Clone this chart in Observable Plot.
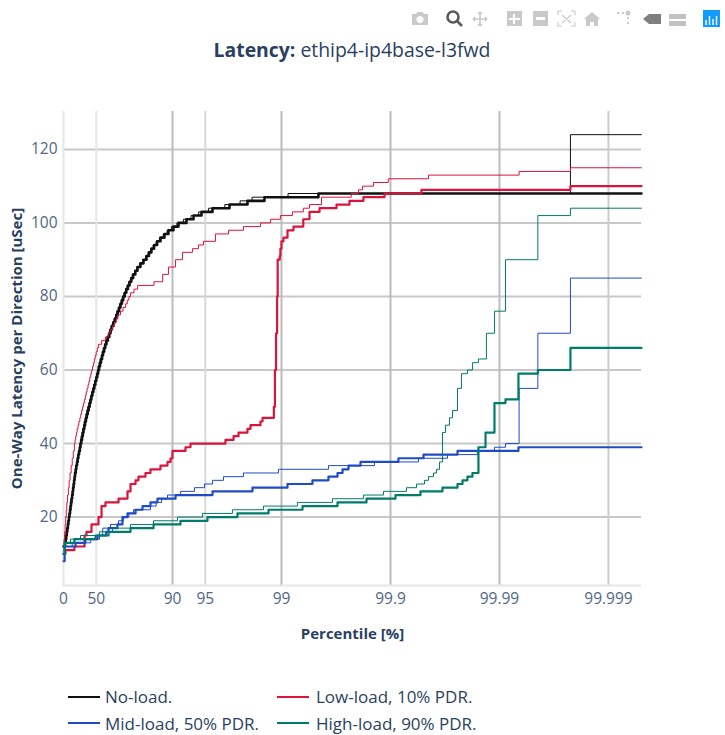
<!DOCTYPE html>
<html>
<head>
<meta charset="utf-8">
<script src="https://cdn.jsdelivr.net/npm/d3@7"></script>
<script src="https://cdn.jsdelivr.net/npm/@observablehq/plot@0.6"></script>
<style>
  html, body { margin: 0; padding: 0; background: #fff; }
  body { width: 725px; height: 735px; position: relative; overflow: hidden; font-family: "Open Sans", sans-serif; color: #2a3f5f; }
  #title { position: absolute; left: 0; width: 704px; top: 37px; text-align: center; font-size: 19.4px; line-height: 26px; white-space: nowrap; }
  #modebar { position: absolute; left: 400px; top: 0; }
  #chart { position: absolute; left: 0; top: 100px; }
  .lg { position: absolute; font-size: 17px; line-height: 22px; white-space: nowrap; color: #2a3f5f; }
  .sw { position: absolute; width: 32px; height: 2px; }
</style>
</head>
<body>
<div id="title"><b>Latency:</b> ethip4-ip4base-l3fwd</div>
<svg id="modebar" width="325" height="36" viewBox="0 0 325 36">
  <g fill="#c9c9c9" stroke="none">
    <path d="M12 14h4l1.5-2h5l1.5 2h4v11h-16z M20 16a3.6 3.6 0 1 0 .01 0z" fill-rule="evenodd"/>
    <path d="M107 11h15v15h-15z M113 14v4h-4v2h4v4h2v-4h5v-2h-5v-4z" fill-rule="evenodd"/>
    <path d="M133 11h15v15h-15z M136 17v3h9v-3z" fill-rule="evenodd"/>
    <path d="M184 19l8-7 8 7h-2v7h-4v-4h-4v4h-4v-7z"/>
    <circle cx="228" cy="13" r="2.5"/><rect x="217" y="12" width="2" height="2"/><rect x="222" y="12" width="2" height="2"/>
    <rect x="227" y="17" width="2" height="2"/><rect x="227" y="22" width="2" height="2"/>
    <path d="M269 14h17v5h-17z M269 21h17v5h-17z" fill="#c2c2c2"/>
  </g>
  <g fill="none" stroke="#c9c9c9" stroke-width="1.6">
    <path d="M80 12v14M73 19h14M80 12l-2 2M80 12l2 2M80 26l-2-2M80 26l2-2M73 19l2-2M73 19l2 2M87 19l-2-2M87 19l-2 2"/>
    <path d="M158 15v-4h4M171 11h4v4M175 22v4h-4M162 26h-4v-4M162 15l9 8M171 15l-9 8" stroke-width="1.1"/>
  </g>
  <path d="M243 19l6-5h12v10h-12z" fill="#7f7f7f"/>
  <g fill="none" stroke="#5a5a5a"><circle cx="53" cy="17" r="5.5" stroke-width="2.6"/><path d="M57 21l5 5" stroke-width="2.6"/></g>
  <rect x="303" y="10" width="17" height="17" fill="#119dff"/>
  <g stroke="#fff" stroke-width="1.4"><path d="M306 25v-5M309.500 25v-9M313 25v-6M316.500 25v-9"/></g>
</svg>
<div id="chart"></div>
<div class="sw" style="left:68px;top:696px;background:#111"></div>
<div class="lg" style="left:105px;top:686px">No-load.</div>
<div class="sw" style="left:277px;top:696px;background:#dc143c"></div>
<div class="lg" style="left:316px;top:686px">Low-load, 10% PDR.</div>
<div class="sw" style="left:68px;top:722px;background:#1f4bc9"></div>
<div class="lg" style="left:105px;top:713px">Mid-load, 50% PDR.</div>
<div class="sw" style="left:277px;top:722px;background:#007c6a"></div>
<div class="lg" style="left:316px;top:713px">High-load, 90% PDR.</div>
<script>
// x values are "nines": -log10(1 - percentile/100), so 1 = 90%, 2 = 99%, 3 = 99.9% ...
const tickNines = [0, 0.301, 1, 1.301, 2, 3, 4, 5];
const tickLabels = ["0", "50", "90", "95", "99", "99.9", "99.99", "99.999"];
const yTicks = [20, 40, 60, 80, 100, 120];
const xEnd = 5.303;

const noLoadThin = [[0,12],[.01,13],[.016,14],[.021,15],[.026,16],[.031,17],[.036,18],[.041,19],[.046,20],[.051,21],[.056,22],[.061,23],[.065,24],[.07,25],[.075,26],[.08,27],[.084,28],[.089,29],[.093,30],[.098,31],[.102,32],[.108,33],[.113,34],[.12,35],[.126,36],[.132,37],[.139,38],[.146,39],[.15,40],[.155,41],[.162,42],[.169,43],[.176,44],[.183,45],[.19,46],[.198,47],[.206,48],[.214,49],[.223,50],[.232,51],[.24,52],[.248,53],[.257,54],[.266,55],[.275,56],[.284,57],[.293,58],[.302,59],[.31,60],[.318,61],[.327,62],[.336,63],[.346,64],[.355,65],[.365,66],[.375,67],[.386,68],[.399,69],[.412,70],[.424,71],[.436,72],[.45,73],[.464,74],[.477,75],[.489,76],[.502,77],[.515,78],[.528,79],[.54,80],[.554,81],[.568,82],[.583,83],[.598,84],[.614,85],[.631,86],[.651,87],[.671,88],[.698,89],[.726,90],[.753,91],[.776,92],[.799,93],[.823,94],[.85,95],[.88,96],[.915,97],[.95,98],[.99,99],[1.04,100],[1.1,101],[1.17,102],[1.24,103],[1.33,104],[1.48,105],[1.62,106],[1.73,107],[2.06,108],[4.651,124],[xEnd,124]];
const noLoadThick = [[0,12],[.014,13],[.02,14],[.025,15],[.03,16],[.035,17],[.04,18],[.045,19],[.05,20],[.055,21],[.06,22],[.065,23],[.069,24],[.074,25],[.079,26],[.084,27],[.088,28],[.093,29],[.097,30],[.102,31],[.106,32],[.112,33],[.117,34],[.124,35],[.13,36],[.136,37],[.143,38],[.15,39],[.156,40],[.163,41],[.17,42],[.177,43],[.184,44],[.191,45],[.198,46],[.206,47],[.214,48],[.222,49],[.231,50],[.24,51],[.248,52],[.256,53],[.265,54],[.274,55],[.283,56],[.292,57],[.301,58],[.31,59],[.318,60],[.326,61],[.335,62],[.344,63],[.354,64],[.363,65],[.373,66],[.383,67],[.394,68],[.407,69],[.42,70],[.432,71],[.444,72],[.458,73],[.472,74],[.485,75],[.497,76],[.51,77],[.523,78],[.536,79],[.548,80],[.562,81],[.576,82],[.591,83],[.606,84],[.622,85],[.639,86],[.659,87],[.679,88],[.706,89],[.734,90],[.761,91],[.784,92],[.807,93],[.831,94],[.859,95],[.89,96],[.926,97],[.963,98],[1.009,99],[1.055,100],[1.128,101],[1.193,102],[1.266,103],[1.367,104],[1.523,105],[1.688,106],[1.844,107],[2.339,108],[xEnd,108]];
const lowLoadThin = [[0,12],[.005,14],[.01,16],[.015,18],[.02,20],[.025,22],[.03,24],[.037,26],[.045,28],[.052,30],[.06,32],[.07,34],[.08,36],[.09,38],[.1,40],[.106,41],[.112,42],[.118,43],[.125,44],[.133,45],[.141,46],[.15,47],[.158,48],[.166,49],[.175,50],[.183,51],[.191,52],[.2,53],[.208,54],[.216,55],[.225,56],[.233,57],[.241,58],[.25,59],[.258,60],[.266,61],[.275,62],[.283,63],[.291,64],[.3,65],[.31,66],[.32,67],[.35,68],[.385,69],[.41,70],[.43,71],[.45,72],[.467,73],[.484,74],[.5,75],[.523,76],[.546,77],[.57,78],[.585,79],[.6,80],[.615,81],[.647,82],[.68,83],[.83,84],[.91,86],[.963,88],[1.028,90],[1.092,92],[1.183,93],[1.238,94],[1.284,95],[1.394,97],[1.514,98],[1.651,99],[1.807,100],[1.9,101],[1.99,102],[2.1,103],[2.2,104],[2.257,105],[2.367,107],[2.64,108],[2.706,109],[2.743,110],[2.844,111],[2.98,112],[3.349,113],[4.18,114],[4.651,115],[xEnd,115]];
const lowLoadThick = [[0,10],[.018,11],[.1,12],[.193,15],[.211,16],[.257,18],[.321,20],[.349,23],[.385,24],[.505,25],[.587,27],[.615,29],[.661,30],[.688,31],[.752,32],[.798,33],[.89,34],[.954,35],[.982,36],[1,38],[1.119,39],[1.165,40],[1.486,41],[1.56,42],[1.606,43],[1.688,44],[1.716,45],[1.807,46],[1.826,47],[1.93,50],[1.94,60],[1.95,70],[1.96,80],[1.965,90],[1.984,91],[1.99,93],[2,95],[2.018,96],[2.055,98],[2.11,99],[2.2,101],[2.257,103],[2.349,104],[2.505,105],[2.624,106],[2.752,107],[2.945,108],[3.284,109],[4.651,110],[xEnd,110]];
const midLoadThin = [[0,8],[.01,12],[.08,13],[.25,14],[.33,15],[.36,17],[.431,18],[.505,19],[.55,20],[.6,21],[.642,22],[.798,23],[.85,24],[.9,25],[.954,26],[1.073,27],[1.202,28],[1.294,29],[1.367,30],[1.468,31],[1.651,32],[1.972,33],[2.431,34],[2.853,35],[3.257,36],[3.523,37],[3.798,38],[3.954,39],[4.055,40],[4.18,55],[4.352,70],[4.651,85],[xEnd,85]];
const midLoadThick = [[0,8],[.01,12],[.11,13],[.2,14],[.312,15],[.39,16],[.413,17],[.495,18],[.541,20],[.587,21],[.661,22],[.725,23],[.798,24],[.862,25],[1.028,26],[1.367,27],[1.734,28],[2.055,29],[2.284,30],[2.431,31],[2.514,32],[2.56,33],[2.615,34],[2.725,35],[3.073,36],[3.303,37],[3.615,38],[4.174,39],[xEnd,39]];
const highLoadThin = [[0,10],[.01,13],[.064,14],[.156,15],[.33,16],[.45,17],[.615,18],[.826,19],[1.046,20],[1.275,21],[1.55,22],[1.835,23],[2.146,24],[2.468,25],[2.752,26],[2.936,27],[3.147,28],[3.239,29],[3.312,30],[3.349,31],[3.395,32],[3.422,33],[3.45,35],[3.477,43],[3.505,45],[3.541,47],[3.569,49],[3.615,55],[3.651,59],[3.706,60],[3.752,62],[3.807,63],[3.88,70],[3.954,76],[4.055,90],[4.352,102],[4.651,104],[xEnd,104]];
const highLoadThick = [[0,10],[.01,13],[.1,14],[.294,15],[.413,16],[.615,17],[.826,18],[1.073,19],[1.321,20],[1.596,21],[1.881,22],[2.193,23],[2.514,24],[2.78,25],[3.046,26],[3.275,27],[3.477,28],[3.615,29],[3.661,30],[3.706,31],[3.752,32],[3.807,39],[3.872,43],[3.954,51],[4.055,52],[4.174,59],[4.352,60],[4.651,66],[xEnd,66]];

const seriesList = [
  [noLoadThin, "#111111", 1], [noLoadThick, "#111111", 2.6],
  [lowLoadThin, "#dc143c", 1], [lowLoadThick, "#dc143c", 2.2],
  [midLoadThin, "#1f4bc9", 1], [midLoadThick, "#1f4bc9", 2.2],
  [highLoadThin, "#007c6a", 1], [highLoadThick, "#007c6a", 2.2]
];

const chart = Plot.plot({
  width: 725, height: 550,
  marginLeft: 63, marginRight: 84, marginTop: 11, marginBottom: 65,
  style: { background: "transparent", fontFamily: "'Open Sans', sans-serif", fontSize: "15.500px", color: "#506784" },
  x: { type: "linear", domain: [0, xEnd], axis: null },
  y: { type: "linear", domain: [1.4, 130.3], axis: null },
  marks: [
    Plot.ruleY(yTicks, { stroke: "#c8c8c8", strokeWidth: 2 }),
    Plot.ruleX([0.301], { stroke: "#e6e6e6", strokeWidth: 2 }),
    Plot.ruleX([1.301], { stroke: "#d8d8d8", strokeWidth: 2 }),
    Plot.ruleX([1, 2, 3, 4], { stroke: "#bcbcbc", strokeWidth: 2 }),
    Plot.ruleX([5], { stroke: "#cccccc", strokeWidth: 2 }),
    Plot.ruleX([0], { stroke: "#e6e6e6", strokeWidth: 2 }),
    Plot.ruleY([1.4], { stroke: "#e6e6e6", strokeWidth: 2 }),
    ...seriesList.map(([rows, color, w]) =>
      Plot.line(rows, { x: d => d[0], y: d => d[1], stroke: color, strokeWidth: w, curve: "step-after" })),
    Plot.axisY(yTicks, { tickSize: 0, tickPadding: 6, label: null, fill: "#506784", fontSize: 15.5 }),
    Plot.axisX(tickNines, { tickSize: 0, tickPadding: 7, label: null, fill: "#506784", fontSize: 15.5,
      tickFormat: (d) => tickLabels[tickNines.indexOf(d)] }),
    Plot.text(["Percentile [%]"], { frameAnchor: "bottom", dy: 53, text: d => d, fontWeight: "bold", fontSize: 15, fill: "#2a3f5f" }),
    Plot.text(["One-Way Latency per Direction [uSec]"], { frameAnchor: "left", textAnchor: "middle", dx: -46, rotate: -90, text: d => d, fontWeight: "bold", fontSize: 15, fill: "#2a3f5f" })
  ]
});
document.getElementById("chart").appendChild(chart);
</script>
</body>
</html>
